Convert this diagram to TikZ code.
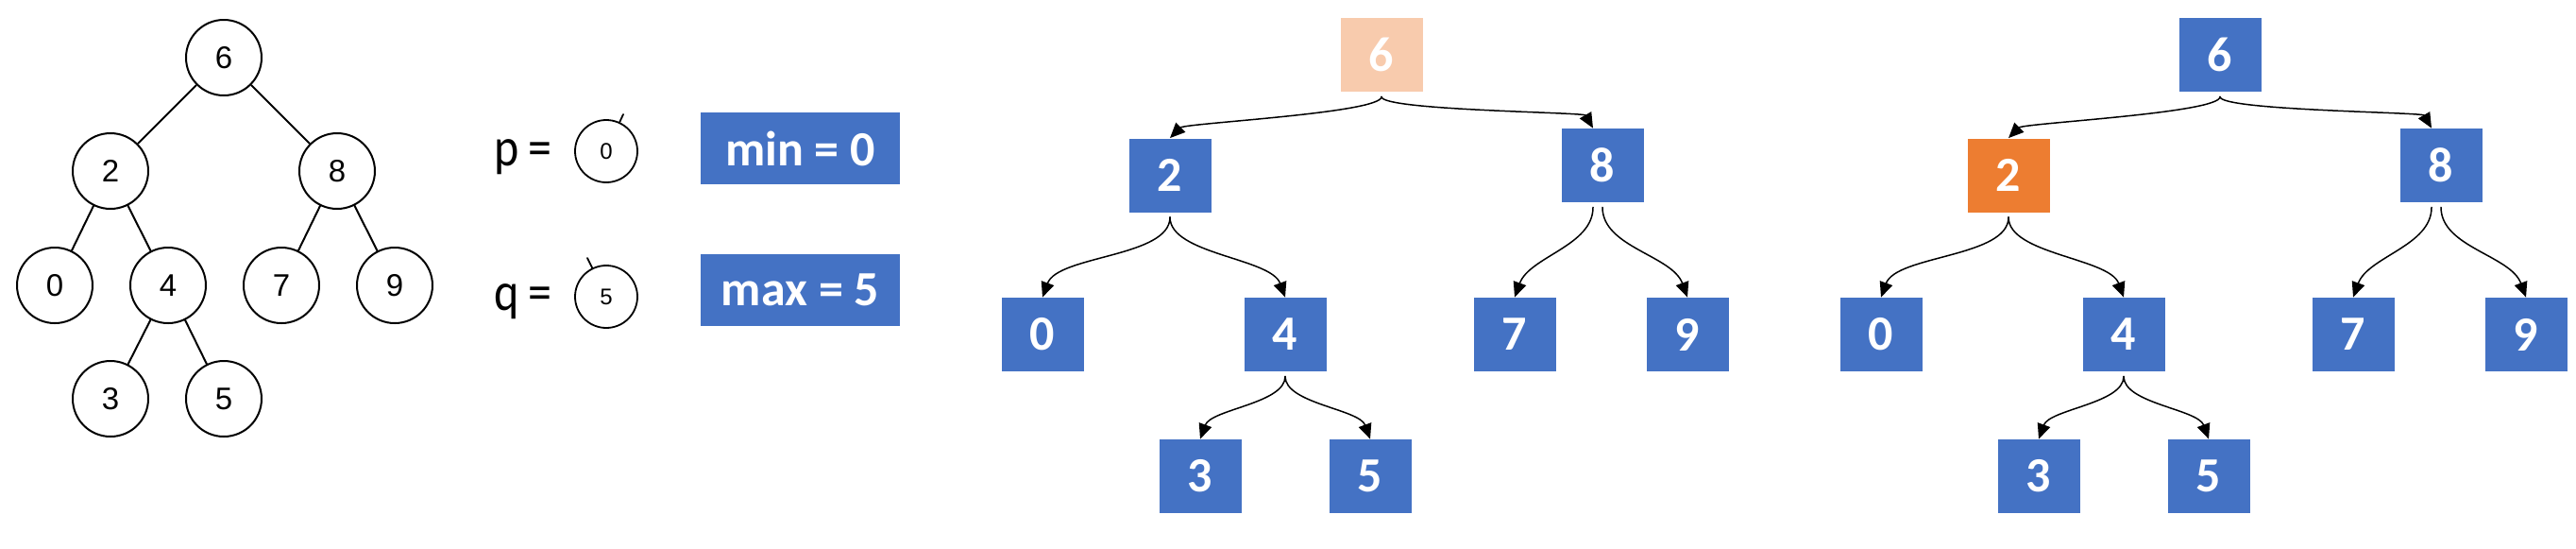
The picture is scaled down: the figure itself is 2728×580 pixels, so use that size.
\documentclass[tikz,border=0pt]{standalone}
\usepackage{amssymb,amsmath}
\usepackage{fontspec}
\setmainfont{Carlito}
\newfontfamily\helv{Liberation Sans}
\usepackage{tikz}
\usetikzlibrary{arrows.meta}
\definecolor{boxblue}{HTML}{4472C4}
\definecolor{boxpeach}{HTML}{F8CBAD}
\definecolor{boxorange}{HTML}{ED7D31}
\tikzset{
  circ/.style={circle,draw,line width=1pt,minimum size=40pt,inner sep=0pt,font=\helv\fontsize{16.5}{16.5}\selectfont},
  smallcirc/.style={circle,draw,line width=0.9pt,minimum size=33pt,inner sep=0pt,font=\helv\fontsize{12}{12}\selectfont},
  sq/.style={fill=boxblue,text=white,minimum width=43.5pt,minimum height=39pt,inner sep=0pt,font=\bfseries\fontsize{26}{26}\selectfont},
  tag/.style={fill=boxblue,text=white,minimum width=105.5pt,minimum height=38pt,inner sep=0pt,font=\bfseries\fontsize{26}{26}\selectfont},
  varname/.style={anchor=base west,inner sep=0pt,font=\fontsize{25}{25}\selectfont},
  treeline/.style={line width=1pt},
  lkid/.style={->,line width=0.75pt,shorten <=2.5pt,out=-90,in=70,looseness=0.75},
  rkid/.style={->,line width=0.75pt,shorten <=2.5pt,out=-90,in=110,looseness=0.75},
}
\begin{document}
\begin{tikzpicture}[line cap=round,line join=round,>={Triangle[length=8pt,width=7pt]},x=0.5pt,y=-0.5pt,font=\normalsize]
    \useasboundingbox (0,0) rectangle (2728,580);
    % plain tree
    \node[circ] (c6) at (237,61) {6};
    \node[circ] (c2) at (117,181) {2};
    \node[circ] (c8) at (357,181) {8};
    \node[circ] (c0) at (58,302) {0};
    \node[circ] (c4) at (178,302) {4};
    \node[circ] (c7) at (298,302) {7};
    \node[circ] (c9) at (418,302) {9};
    \node[circ] (c3) at (117,422) {3};
    \node[circ] (c5) at (237,422) {5};
    \foreach \u/\v in {6/2,6/8,2/0,2/4,8/7,8/9,4/3,4/5}
        \draw[treeline] (c\u) -- (c\v);
    % p and q
    \node[varname] (plabel) at (523,175) {\scalebox{1}[1.15]{p\hspace{5pt}=}};
    \node[varname] (qlabel) at (523,328) {\scalebox{1}[1.15]{q\hspace{5pt}=}};
    \node[smallcirc] (pnode) at (642,160) {0};
    \node[smallcirc] (qnode) at (642,314) {5};
    \coordinate (ptip) at (660,121);
    \coordinate (qtip) at (622,273);
    \draw[line width=0.9pt] (pnode) -- (ptip);
    \draw[line width=0.9pt] (qnode) -- (qtip);
    \node[tag] (minbox) at (847.5,157) {min = 0};
    \node[tag] (maxbox) at (847.5,306.5) {max = 5};
    % box trees
    \foreach \dx/\pre/\topcol/\midcol in {0/a/boxpeach/boxblue,888/b/boxblue/boxorange}{
    \begin{scope}[shift={(\dx,0)},name prefix=\pre]
        \node[sq,fill=\topcol] (t6) at (1463,58) {6};
        \node[sq,fill=\midcol] (t2) at (1239,185.5) {2};
        \node[sq] (t8) at (1697,175) {8};
        \node[sq] (t0) at (1104,354) {0};
        \node[sq] (t4) at (1361,354) {4};
        \node[sq] (t7) at (1604,354) {7};
        \node[sq] (t9) at (1787,354) {9};
        \node[sq] (t3) at (1271,504) {3};
        \node[sq] (t5) at (1451,504) {5};
        \draw[lkid,in=45,looseness=0.25] (t6.south) to (t2.north);
        \draw[rkid,in=120,looseness=0.22] (t6.south) to ([xshift=-5pt]t8.north);
        \draw[lkid] (t2.south) to (t0.north);
        \draw[rkid] (t2.south) to (t4.north);
        \draw[lkid,looseness=0.9] ([xshift=-5pt]t8.south) to (t7.north);
        \draw[rkid,looseness=0.9] (t8.south) to (t9.north);
        \draw[lkid] (t4.south) to (t3.north);
        \draw[rkid] (t4.south) to (t5.north);
    \end{scope}
    }
\end{tikzpicture}
\end{document}
